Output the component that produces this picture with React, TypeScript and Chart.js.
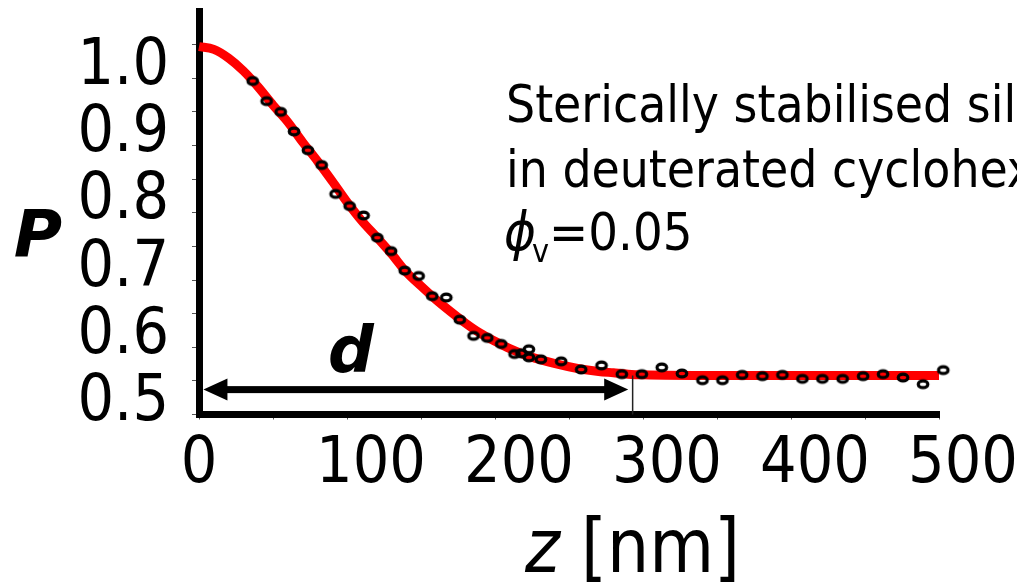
import React, { useEffect, useRef } from 'react';
import { Chart, registerables } from 'chart.js';

Chart.register(...registerables);

// ---- data ----
const measuredZ = [
  36.3, 45.7, 55.2, 64.2, 73.6, 82.9, 92.3, 101.8, 111.2, 120.5,
  129.8, 139.0, 148.4, 157.6, 167.1, 176.2, 185.5, 194.8, 204.2, 213.2,
  217.9, 222.9, 222.9, 231.0, 244.7, 258.2, 272.0, 285.7, 299.2, 312.7,
  326.3, 340.2, 353.7, 367.0, 380.7, 394.2, 407.7, 421.2, 434.9, 448.7,
  462.2, 475.7, 489.2, 502.9,
];
const measuredP = [
  0.946, 0.916, 0.900, 0.871, 0.843, 0.821, 0.778, 0.760, 0.746, 0.713,
  0.693, 0.664, 0.656, 0.626, 0.624, 0.591, 0.567, 0.564, 0.555, 0.540,
  0.541, 0.547, 0.535, 0.532, 0.529, 0.517, 0.523, 0.510, 0.510, 0.520,
  0.511, 0.501, 0.501, 0.509, 0.507, 0.509, 0.503, 0.503, 0.503, 0.507,
  0.510, 0.505, 0.495, 0.516,
];
const fitZ = [
  0, 10, 20, 30, 40, 50, 60, 70, 80, 90, 100, 110, 120, 130, 140, 150,
  160, 170, 180, 190, 200, 210, 220, 230, 240, 250, 260, 270, 280, 290,
  300, 350, 400, 450, 500,
];
const fitP = [
  0.997, 0.993, 0.980, 0.961, 0.937, 0.910, 0.885, 0.855, 0.827, 0.797,
  0.766, 0.738, 0.714, 0.689, 0.662, 0.641, 0.621, 0.603, 0.586, 0.571,
  0.559, 0.548, 0.539, 0.532, 0.526, 0.521, 0.517, 0.514, 0.512, 0.510,
  0.509, 0.508, 0.508, 0.508, 0.508,
];
const xRange = [0, 500];
const yRange = [0.45, 1.05];
const xLabels = ['0', '100', '200', '300', '400', '500'];
const yLabels = ['0.5', '0.6', '0.7', '0.8', '0.9', '1.0'];
// the "d" marker
const dArrowFrom = 3;
const dArrowTo = 290;
const dMarkZ = 293;
const dMarkTopP = 0.508;
const dArrowP = 0.487;
const annotationLines = ['Sterically stabilised silica', 'in deuterated cyclohexane'];
const phiValue = '=0.05';

const FONT = "'DejaVu Sans Condensed', 'DejaVu Sans', sans-serif";
const BOLD_FONT = "'DejaVu Sans', sans-serif";

function makeRing(): HTMLCanvasElement {
  const c = document.createElement('canvas');
  c.width = 16;
  c.height = 13;
  const g = c.getContext('2d')!;
  g.strokeStyle = '#000';
  g.lineWidth = 3.2;
  g.beginPath();
  g.ellipse(8, 6.5, 4.8, 3.4, 0, 0, Math.PI * 2);
  g.stroke();
  return c;
}

const overlay = {
  id: 'overlay',
  afterDraw(chart: any) {
    const { ctx, scales, chartArea } = chart;
    const x = scales.x;
    const y = scales.y;
    ctx.save();
    // d arrow
    const ay = y.getPixelForValue(dArrowP);
    const x1 = x.getPixelForValue(dArrowFrom);
    const x2 = x.getPixelForValue(dArrowTo);
    const headL = 24;
    const headH = 11;
    ctx.fillStyle = '#000';
    ctx.fillRect(x1 + headL - 1, ay - 3.5, x2 - x1 - 2 * headL + 2, 7);
    ctx.beginPath();
    ctx.moveTo(x1, ay);
    ctx.lineTo(x1 + headL, ay - headH);
    ctx.lineTo(x1 + headL, ay + headH);
    ctx.closePath();
    ctx.fill();
    ctx.beginPath();
    ctx.moveTo(x2, ay);
    ctx.lineTo(x2 - headL, ay - headH);
    ctx.lineTo(x2 - headL, ay + headH);
    ctx.closePath();
    ctx.fill();
    // marker line
    const mx = x.getPixelForValue(dMarkZ);
    ctx.strokeStyle = '#222';
    ctx.lineWidth = 1.5;
    ctx.beginPath();
    ctx.moveTo(mx, y.getPixelForValue(dMarkTopP));
    ctx.lineTo(mx, chartArea.bottom);
    ctx.stroke();

    // d label
    ctx.textBaseline = 'alphabetic';
    ctx.textAlign = 'center';
    ctx.font = `italic bold 64px ${BOLD_FONT}`;
    ctx.fillText('d', 351, 372);
    // P label
    ctx.font = `italic bold 66px ${BOLD_FONT}`;
    ctx.fillText('P', 38, 257);

    // annotation
    ctx.textAlign = 'left';
    ctx.font = `51px ${FONT}`;
    ctx.fillText(annotationLines[0], 506, 122);
    ctx.fillText(annotationLines[1], 506, 187);
    ctx.font = `italic 54px ${FONT}`;
    ctx.fillText('\u03D5', 504, 250);
    let px = 504 + ctx.measureText('\u03D5').width - 4;
    ctx.font = `32px ${FONT}`;
    ctx.fillText('v', px, 262);
    px += ctx.measureText('v').width;
    ctx.font = `52px ${FONT}`;
    ctx.fillText(phiValue, px, 250);

    // x title
    ctx.font = `italic 74px ${FONT}`;
    ctx.fillText('z', 525, 572);
    let tx = 525 + ctx.measureText('z ').width;
    ctx.font = `74px ${FONT}`;
    ctx.fillText('[nm]', tx, 572);
    ctx.restore();
  },
};

export default function App() {
  const ref = useRef<HTMLCanvasElement | null>(null);
  useEffect(() => {
    if (!ref.current) return;
    const ring = makeRing();
    const chart = new Chart(ref.current, {
      type: 'line',
      data: {
        datasets: [
          {
            label: 'measured',
            data: measuredZ.map((z, i) => ({ x: z, y: measuredP[i] })),
            showLine: false,
            pointStyle: ring as any,
            pointRadius: 5,
            borderColor: '#000',
            backgroundColor: 'rgba(0,0,0,0)',
            clip: false as any,
          },
          {
            label: 'fit',
            data: fitZ.map((z, i) => ({ x: z, y: fitP[i] })),
            borderColor: '#ff0000',
            borderWidth: 9,
            pointRadius: 0,
            cubicInterpolationMode: 'monotone',
            fill: false,
            clip: false as any,
          },
        ],
      },
      options: {
        animation: false,
        responsive: true,
        maintainAspectRatio: false,
        devicePixelRatio: 1,
        layout: { padding: { top: 11, right: 78, left: 0, bottom: 0 } },
        plugins: { legend: { display: false }, tooltip: { enabled: false }, title: { display: false } },
        scales: {
          x: {
            type: 'linear',
            min: xRange[0],
            max: xRange[1],
            afterFit: (s: any) => {
              s.height = 170.5;
              s.paddingLeft = 0;
              s.paddingRight = 0;
            },
            grid: { drawOnChartArea: false, drawTicks: true, tickLength: 5, color: '#555', lineWidth: 1 },
            border: { display: true, color: '#000', width: 7 },
            ticks: {
              stepSize: 50,
              autoSkip: false,
              maxRotation: 0,
              minRotation: 0,
              padding: 14,
              labelOffset: 24,
              color: '#000',
              font: { family: FONT, size: 64, lineHeight: 1 },
              callback: (v: any) => {
                const n = Math.round(Number(v));
                if (n % 100 !== 0) return '';
                const lab = xLabels[n / 100];
                return n === 0 ? lab + '\u2007\u2009' : lab;
              },
            },
          },
          y: {
            type: 'linear',
            min: yRange[0],
            max: yRange[1],
            afterFit: (s: any) => {
              s.width = 199;
              s.paddingTop = 0;
              s.paddingBottom = 0;
            },
            grid: { drawOnChartArea: false, drawTicks: true, tickLength: 7, color: '#555', lineWidth: 1 },
            border: { display: true, color: '#000', width: 7 },
            ticks: {
              stepSize: 0.05,
              autoSkip: false,
              padding: 23,
              labelOffset: 22.5,
              color: '#000',
              font: { family: FONT, size: 64, lineHeight: 1 },
              callback: (v: any) => {
                const r = Math.round(Number(v) * 100);
                if (r === 105) return null as any;
                if (r % 10 !== 0 || r < 50) return '';
                return yLabels[(r - 50) / 10];
              },
            },
          },
        },
      },
      plugins: [overlay],
    });
    return () => chart.destroy();
  }, []);
  return (
    <div style={{ position: 'fixed', left: 0, top: 0, width: 1017, height: 585, background: '#fff' }}>
      <canvas ref={ref} />
    </div>
  );
}
